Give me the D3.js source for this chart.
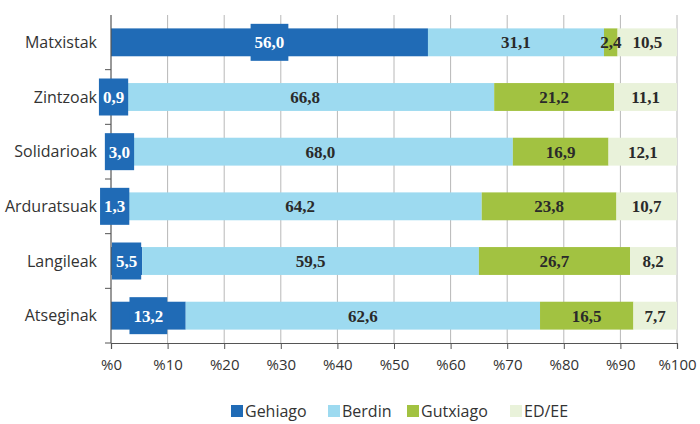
<!DOCTYPE html>
<html>
<head>
<meta charset="utf-8">
<script src="https://cdn.jsdelivr.net/npm/d3@7"></script>
<style>
	body { margin: 0; background: #fff; }
	svg { display: block; }
</style>
</head>
<body>
<div id="chart"></div>
<script>

var categories = ["Matxistak", "Zintzoak", "Solidarioak", "Arduratsuak", "Langileak", "Atseginak"];
var seriesNames = ["Gehiago", "Berdin", "Gutxiago", "ED/EE"];
var gehiago  = [56.0, 0.9, 3.0, 1.3, 5.5, 13.2];
var berdin   = [31.1, 66.8, 68.0, 64.2, 59.5, 62.6];
var gutxiago = [2.4, 21.2, 16.9, 23.8, 26.7, 16.5];
var edee     = [10.5, 11.1, 12.1, 10.7, 8.2, 7.7];
var xTicks   = [0, 10, 20, 30, 40, 50, 60, 70, 80, 90, 100];

var colors = ["#206bb6", "#9ddaf0", "#a2c241", "#e9f2da"];

var width = 700, height = 424;
var margin = {top: 15, right: 23, bottom: 81, left: 111};

var svg = d3.select("#chart").append("svg")
	.attr("width", width)
	.attr("height", height);

// table for the stack
var rows = categories.map(function(c, i) {
	return {cat: c, "Gehiago": gehiago[i], "Berdin": berdin[i], "Gutxiago": gutxiago[i], "ED/EE": edee[i]};
});
var stacked = d3.stack().keys(seriesNames)(rows);

var x = d3.scaleLinear().domain([0, 100]).range([margin.left, width - margin.right]);
var y = d3.scaleBand().domain(categories).range([margin.top, height - margin.bottom]).paddingInner(0.49).paddingOuter(0.245);

// gridlines
svg.append("g").selectAll("line")
	.data(xTicks.slice(1))
	.enter().append("line")
	.attr("x1", function(d) { return x(d); })
	.attr("x2", function(d) { return x(d); })
	.attr("y1", margin.top)
	.attr("y2", height - margin.bottom)
	.attr("stroke", "#b8b8b8")
	.attr("stroke-width", 1);

// bars
var layers = svg.append("g").selectAll("g")
	.data(stacked)
	.enter().append("g")
	.attr("fill", function(d, i) { return colors[i]; });

layers.selectAll("rect")
	.data(function(d) { return d; })
	.enter().append("rect")
	.attr("x", function(d) { return x(d[0]); })
	.attr("width", function(d) { return x(d[1]) - x(d[0]); })
	.attr("y", function(d) { return y(d.data.cat); })
	.attr("height", y.bandwidth());

// y axis
var yAxisG = svg.append("g")
	.attr("transform", "translate(" + margin.left + ",0)");
yAxisG.append("line")
	.attr("x1", 0).attr("x2", 0)
	.attr("y1", margin.top).attr("y2", height - margin.bottom)
	.attr("stroke", "#555").attr("stroke-width", 1.2);
var bounds = d3.range(categories.length + 1).map(function(i) { return margin.top + i * (height - margin.top - margin.bottom) / categories.length; });
yAxisG.selectAll("line.tk")
	.data(bounds.slice(1))
	.enter().append("line")
	.attr("class", "tk")
	.attr("x1", -6).attr("x2", 0)
	.attr("y1", function(d) { return d; })
	.attr("y2", function(d) { return d; })
	.attr("stroke", "#555");
yAxisG.selectAll("text")
	.data(categories)
	.enter().append("text")
	.attr("x", -14)
	.attr("y", function(d) { return y(d) + y.bandwidth() / 2; })
	.attr("dy", "0.35em")
	.attr("text-anchor", "end")
	.attr("font-family", "'Open Sans', sans-serif")
	.attr("font-size", 16)
	.attr("fill", "#333")
	.text(function(d) { return d; });

// x axis
var xAxis = d3.axisBottom(x)
	.tickValues(xTicks)
	.tickSize(6)
	.tickFormat(function(d) { return "%" + d; });
var xAxisG = svg.append("g")
	.attr("transform", "translate(0," + (height - margin.bottom) + ")")
	.call(xAxis);
xAxisG.select(".domain").attr("stroke", "#555").attr("stroke-width", 1.2);
xAxisG.selectAll(".tick line").attr("stroke", "#555");
xAxisG.selectAll(".tick text")
	.attr("y", 16)
	.attr("font-family", "'Open Sans', sans-serif")
	.attr("font-size", 15)
	.attr("fill", "#333");

// value labels
var fmt = function(v) { return v.toFixed(1).replace(".", ","); };
var labelsG = svg.append("g");
stacked.forEach(function(layer, li) {
	layer.forEach(function(d) {
		var cx = (x(d[0]) + x(d[1])) / 2;
		var cy = y(d.data.cat) + y.bandwidth() / 2;
		var t = labelsG.append("text")
			.attr("x", cx)
			.attr("y", cy)
			.attr("dy", "0.35em")
			.attr("text-anchor", "middle")
			.attr("font-family", "'Liberation Serif', serif")
			.attr("font-weight", "bold")
			.attr("font-size", 17)
			.attr("fill", li == 0 ? "#fff" : "#2a2a2a")
			.text(fmt(d.data[layer.key]));
		if (li == 0) {
			var bb = t.node().getBBox();
			labelsG.insert("rect", "text")
				.attr("x", bb.x - 4)
				.attr("y", cy - 18.5)
				.attr("width", bb.width + 8)
				.attr("height", 37)
				.attr("fill", colors[0]);
			t.raise();
		}
	});
});

// legend
var legendX = [231, 328, 407, 510];
var legend = svg.append("g").selectAll("g")
	.data(seriesNames)
	.enter().append("g")
	.attr("transform", function(d, i) { return "translate(" + legendX[i] + "," + 405 + ")"; });
legend.append("rect")
	.attr("width", 12).attr("height", 12)
	.attr("fill", function(d, i) { return colors[i]; });
legend.append("text")
	.attr("x", 14)
	.attr("y", 6)
	.attr("dy", "0.35em")
	.attr("font-family", "'Open Sans', sans-serif")
	.attr("font-size", 16)
	.attr("fill", "#333")
	.text(function(d) { return d; });

</script>
</body>
</html>
